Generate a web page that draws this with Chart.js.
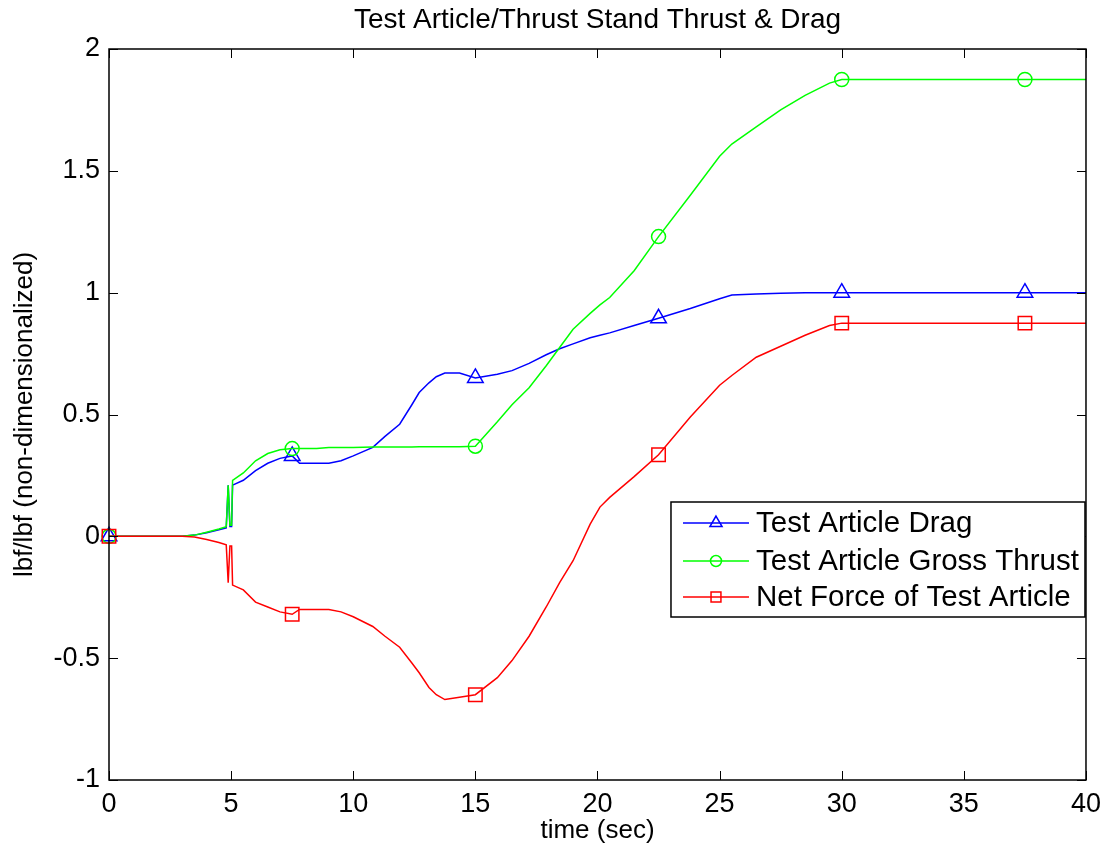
<!DOCTYPE html>
<html>
<head>
<meta charset="utf-8">
<script src="https://cdn.jsdelivr.net/npm/chart.js@4.4.0/dist/chart.umd.min.js"></script>
<style>
  html, body { margin: 0; padding: 0; background: #fff; }
  #wrap { width: 1109px; height: 852px; }
</style>
</head>
<body>
<div id="wrap"><canvas id="myChart" width="1109" height="852"></canvas></div>
<script>
// time (sec) shared by all three series
const times = [0, 1, 2, 3, 3.5, 4, 4.5, 4.8, 4.88, 4.95, 5.02, 5.06, 5.5, 6, 6.5, 7, 7.5, 7.8, 8.5, 9, 9.5, 10,
    10.8, 11.3, 11.9, 12.4, 12.7, 13.1, 13.4, 13.75, 14.35, 15, 15.9, 16.5, 17.2, 17.9, 18.45, 19, 19.7, 20.1,
    20.5, 21.5, 22.5, 23.8, 25, 25.5, 26.5, 27.5, 28.5, 29.5, 30, 37.5, 40];

const dragValues = [0, 0, 0, 0, 0.005, 0.015, 0.027, 0.035, 0.21, 0.04, 0.04, 0.21, 0.23, 0.27, 0.30, 0.32, 0.33, 0.30, 0.30, 0.30, 0.31, 0.33,
    0.365, 0.41, 0.46, 0.54, 0.59, 0.63, 0.655, 0.67, 0.67, 0.65, 0.665, 0.68, 0.71, 0.745, 0.77, 0.79, 0.815, 0.825,
    0.835, 0.865, 0.895, 0.935, 0.975, 0.99, 0.995, 0.998, 1.0, 1.0, 1.0, 1.0, 1.0];

const thrustValues = [0, 0, 0, 0, 0.005, 0.017, 0.03, 0.04, 0.21, 0.045, 0.045, 0.23, 0.26, 0.31, 0.34, 0.355, 0.36, 0.36, 0.36, 0.365, 0.365, 0.365,
    0.367, 0.367, 0.367, 0.367, 0.368, 0.368, 0.368, 0.368, 0.368, 0.37, 0.47, 0.54, 0.61, 0.70, 0.775, 0.85, 0.915, 0.95,
    0.98, 1.09, 1.23, 1.40, 1.56, 1.61, 1.68, 1.75, 1.81, 1.86, 1.875, 1.875, 1.875];

const netValues = [0, 0, 0, 0, -0.003, -0.013, -0.025, -0.035, -0.19, -0.04, -0.04, -0.2, -0.22, -0.27, -0.29, -0.31, -0.32, -0.30, -0.30, -0.30, -0.31, -0.33,
    -0.37, -0.41, -0.455, -0.52, -0.56, -0.62, -0.65, -0.67, -0.66, -0.65, -0.58, -0.51, -0.41, -0.29, -0.19, -0.10, 0.05, 0.12,
    0.16, 0.245, 0.335, 0.49, 0.62, 0.66, 0.735, 0.78, 0.825, 0.865, 0.875, 0.875, 0.875];

const seriesLabels = ['Test Article Drag', 'Test Article Gross Thrust', 'Net Force of Test Article'];
const chartTitle = 'Test Article/Thrust Stand Thrust & Drag';

const FONT = '"Liberation Sans", Arial, Helvetica, sans-serif';

function toPoints(vals) {
    return vals.map((v, i) => ({ x: times[i], y: v }));
}

// markers only every 7.5 sec like the matlab plot
function markerRadius(r) {
    return function (ctx) {
        const t = times[ctx.dataIndex];
        return (t % 7.5 === 0 && t < 40) ? r : 0;
    };
}

function makeSet(label, vals, color, style, r, order) {
    return {
        label: label,
        data: toPoints(vals),
        borderColor: color,
        backgroundColor: 'rgba(0,0,0,0)',
        borderWidth: 1.5,
        pointStyle: style,
        pointRadius: markerRadius(r),
        pointHoverRadius: markerRadius(r),
        pointBorderColor: color,
        pointBackgroundColor: 'rgba(0,0,0,0)',
        pointBorderWidth: 1.5,
        tension: 0,
        clip: false,
        order: order
    };
}

// box, inward ticks, title and legend drawn matlab style
const matlabFrame = {
    id: 'matlabFrame',
    afterDraw(chart) {
        const ctx = chart.ctx;
        const a = chart.chartArea;
        const xs = chart.scales.x;
        const ys = chart.scales.y;
        ctx.save();
        ctx.strokeStyle = '#000';
        ctx.lineWidth = 1.5;
        ctx.strokeRect(a.left, a.top, a.right - a.left, a.bottom - a.top);
        ctx.lineWidth = 1;
        ctx.beginPath();
        xs.ticks.forEach(t => {
            const px = Math.round(xs.getPixelForValue(t.value)) + 0.5;
            ctx.moveTo(px, a.bottom); ctx.lineTo(px, a.bottom - 9);
            ctx.moveTo(px, a.top); ctx.lineTo(px, a.top + 9);
        });
        ys.ticks.forEach(t => {
            const py = Math.round(ys.getPixelForValue(t.value)) + 0.5;
            ctx.moveTo(a.left, py); ctx.lineTo(a.left + 9, py);
            ctx.moveTo(a.right, py); ctx.lineTo(a.right - 9, py);
        });
        ctx.stroke();

        // title
        ctx.fillStyle = '#000';
        ctx.font = '28px ' + FONT;
        ctx.textAlign = 'center';
        ctx.textBaseline = 'middle';
        ctx.fillText(chartTitle, (a.left + a.right) / 2, 20);

        // legend
        const lx = a.right - 415, ly = a.top + 453, lw = 414, lh = 115;
        ctx.fillStyle = '#fff';
        ctx.fillRect(lx, ly, lw, lh);
        ctx.strokeStyle = '#000';
        ctx.lineWidth = 1.5;
        ctx.strokeRect(lx, ly, lw, lh);
        const rows = [21, 59, 95];
        chart.data.datasets.forEach((ds, i) => {
            const cy = ly + rows[i];
            ctx.strokeStyle = ds.borderColor;
            ctx.lineWidth = 1.5;
            ctx.beginPath();
            ctx.moveTo(lx + 12, cy);
            ctx.lineTo(lx + 78, cy);
            ctx.stroke();
            ctx.fillStyle = 'rgba(0,0,0,0)';
            Chart.helpers.drawPoint(ctx, {
                pointStyle: ds.pointStyle, radius: ds.pointStyle === 'circle' ? 5.5 : 7,
                rotation: 0, borderWidth: 1.5
            }, lx + 45, cy);
            ctx.fillStyle = '#000';
            ctx.font = '29.5px ' + FONT;
            ctx.textAlign = 'left';
            ctx.textBaseline = 'middle';
            ctx.fillText(ds.label, lx + 85, cy + 1);
        });
        ctx.restore();
    }
};

function plainTick(v) {
    return String(Number(v.toFixed(2)));
}

const ctx = document.getElementById('myChart').getContext('2d');
const chartInstance = new Chart(ctx, {
    type: 'line',
    data: {
        datasets: [
            makeSet(seriesLabels[0], dragValues, '#0000ff', 'triangle', 9, 3),
            makeSet(seriesLabels[1], thrustValues, '#00ff00', 'circle', 7, 2),
            makeSet(seriesLabels[2], netValues, '#ff0000', 'rect', 9.5, 1)
        ]
    },
    options: {
        responsive: false,
        animation: false,
        layout: { padding: { top: 49, right: 22, left: 0, bottom: 0 } },
        plugins: {
            legend: { display: false },
            title: { display: false },
            tooltip: { enabled: false }
        },
        scales: {
            x: {
                type: 'linear',
                min: 0,
                max: 40,
                grid: { display: false, drawTicks: false },
                border: { display: false },
                ticks: { stepSize: 5, padding: 8, color: '#000', font: { size: 27, family: FONT }, callback: plainTick },
                title: { display: true, text: 'time (sec)', color: '#000', font: { size: 26, family: FONT }, padding: { top: 0, bottom: 6 } },
                afterFit: function (scale) { scale.height = 72; }
            },
            y: {
                type: 'linear',
                min: -1,
                max: 2,
                grid: { display: false, drawTicks: false },
                border: { display: false },
                ticks: { stepSize: 0.5, padding: 9, color: '#000', font: { size: 27, family: FONT }, callback: plainTick },
                title: { display: true, text: 'lbf/lbf (non-dimensionalized)', color: '#000', font: { size: 26, family: FONT }, padding: { top: 9, bottom: 0 } },
                afterFit: function (scale) { scale.width = 109; }
            }
        }
    },
    plugins: [matlabFrame]
});
</script>
</body>
</html>
